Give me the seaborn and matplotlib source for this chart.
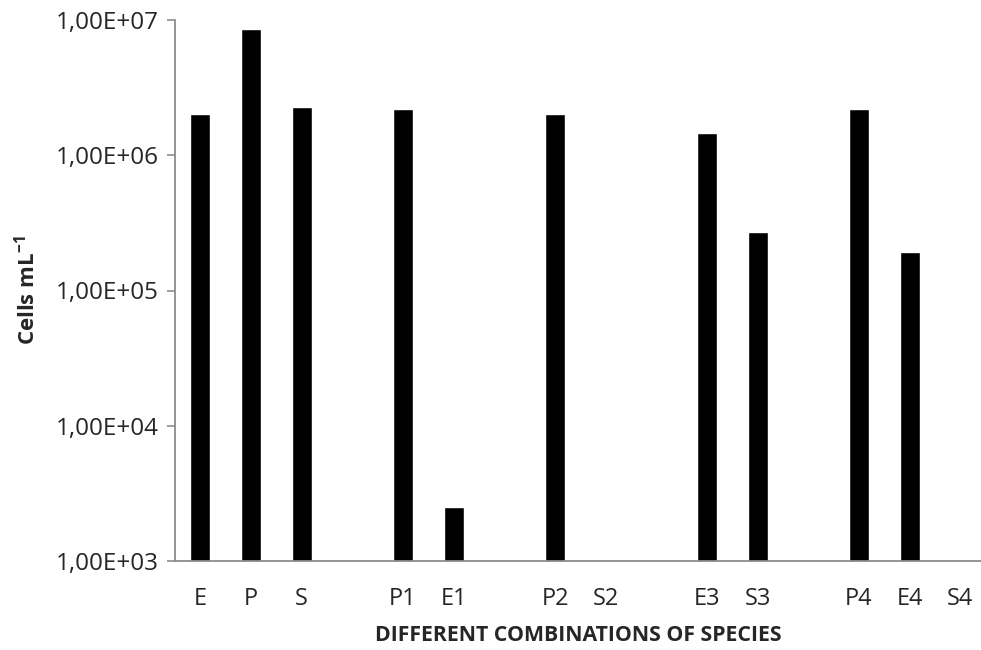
import numpy as np
import pandas as pd
import matplotlib
matplotlib.use("Agg")
import matplotlib.pyplot as plt
import seaborn as sns

# Category slots (blank slots separate the groups)
categories = ["E", "P", "S", " ", "P1", "E1", "  ", "P2", "S2", "   ", "E3", "S3", "    ", "P4", "E4", "S4"]
cells_per_ml = [2.03e6, 8.6e6, 2.28e6, np.nan, 2.21e6, 2.5e3, np.nan, 2.01e6, np.nan, np.nan,
                1.47e6, 2.73e5, np.nan, 2.21e6, 1.94e5, np.nan]
y_ticks = [1e3, 1e4, 1e5, 1e6, 1e7]
y_ticklabels = ["1,00E+03", "1,00E+04", "1,00E+05", "1,00E+06", "1,00E+07"]

df = pd.DataFrame({"combo": categories, "cells": cells_per_ml})

sns.set_theme(style="white")
plt.rcParams["font.family"] = ["Open Sans", "DejaVu Sans"]
plt.rcParams["mathtext.fontset"] = "custom"
plt.rcParams["mathtext.rm"] = "Open Sans"
plt.rcParams["mathtext.bf"] = "Open Sans:bold"

W, H = 981, 650
fig = plt.figure(figsize=(W / 100, H / 100), dpi=100)
left, right, top, bottom = 175, 981, 20, 561
ax = fig.add_axes([left / W, 1 - bottom / H, (right - left) / W, (bottom - top) / H])

sns.barplot(data=df.dropna(), x="combo", y="cells", order=categories, color="black",
            width=0.4, saturation=1, ax=ax, errorbar=None, log_scale=(False, True))

ax.set_yscale("log")
ax.set_ylim(1e3, 1e7)
ax.set_yticks(y_ticks)
ax.set_yticklabels(y_ticklabels)
ax.yaxis.set_minor_locator(matplotlib.ticker.NullLocator())
slot = 50.67
ax.set_xlim(-0.5, -0.5 + (right - left) / slot)

gray = "#8c8c8c"
for s in ["top", "right"]:
    ax.spines[s].set_visible(False)
for s in ["left", "bottom"]:
    ax.spines[s].set_color(gray)
    ax.spines[s].set_linewidth(1.3)

ax.tick_params(axis="y", which="major", direction="out", length=5.5, width=1.2, color=gray,
               labelsize=17.5, pad=6, left=True)
ax.tick_params(axis="x", length=0, labelsize=17, pad=19)

ax.set_xlabel("DIFFERENT COMBINATIONS OF SPECIES", fontsize=15.3, fontweight="bold", labelpad=10)
ax.set_ylabel(r"Cells mL$^{\mathbf{-1}}$", fontsize=16, fontweight="bold", labelpad=12)

fig.savefig("out.png", dpi=100)
